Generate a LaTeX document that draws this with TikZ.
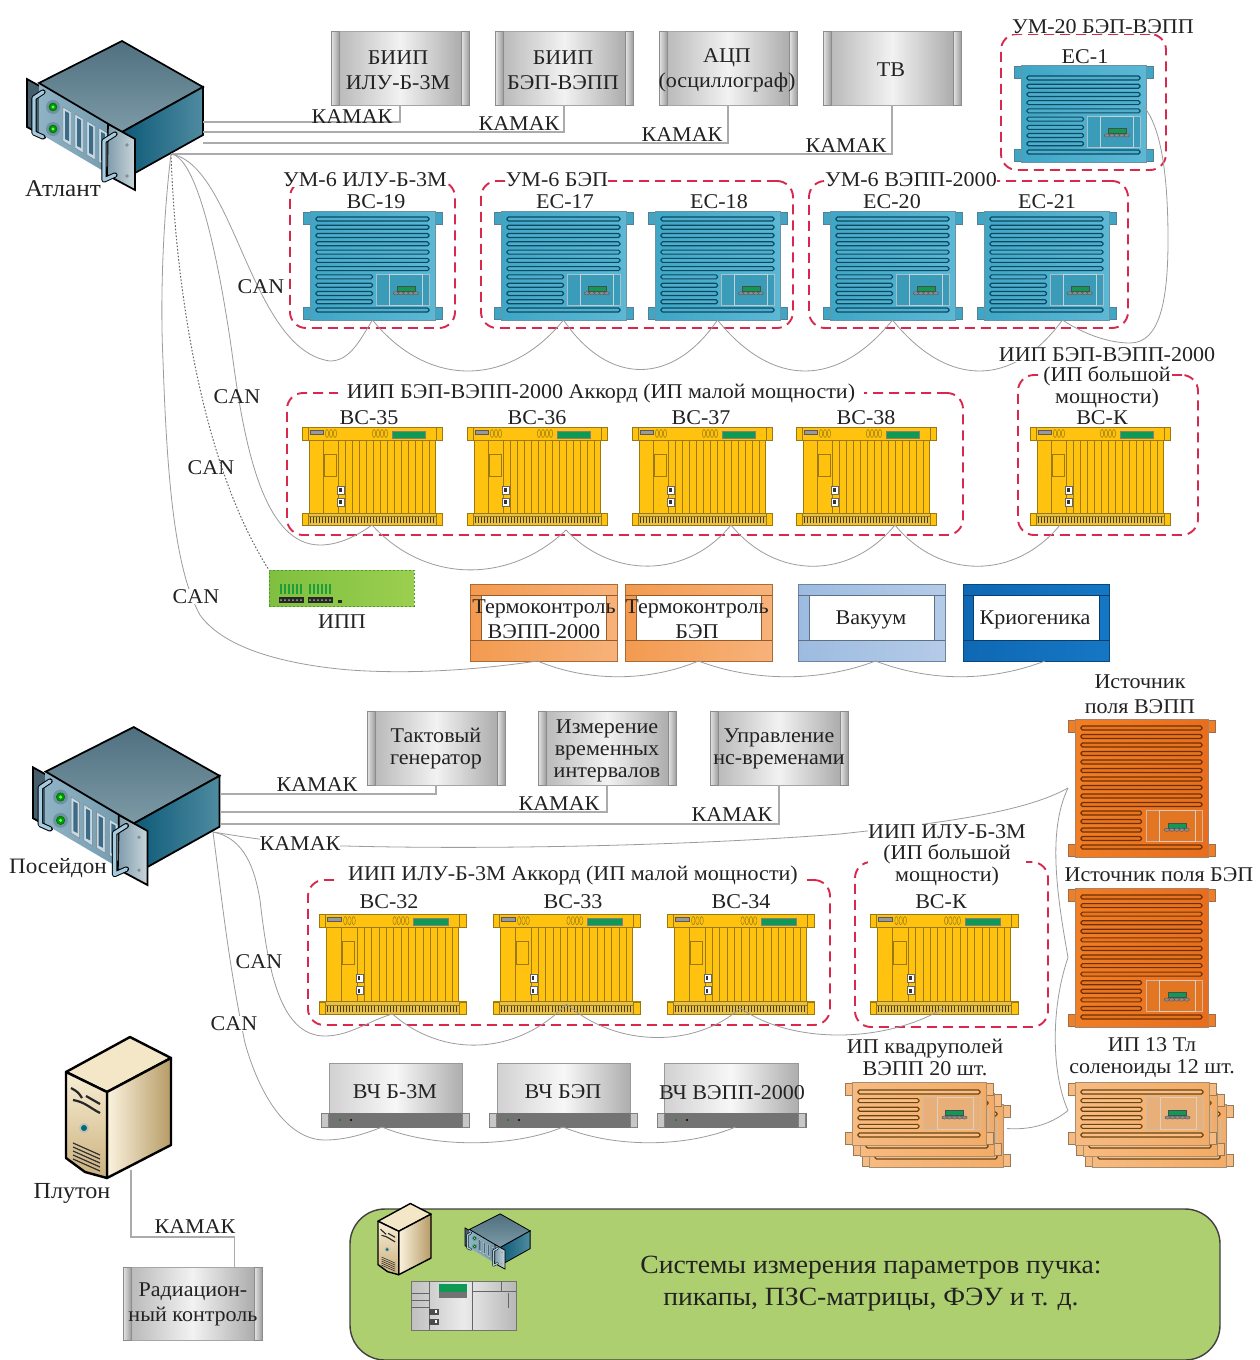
\documentclass[tikz,border=0pt]{standalone}
\usepackage{fontspec}
\setmainfont[FakeStretch=1.05]{Liberation Serif}
\usetikzlibrary{calc}
\definecolor{inkc}{HTML}{222222}
\definecolor{redd}{HTML}{D8284E}
\definecolor{wirec}{HTML}{ABABAB}
\definecolor{canc}{HTML}{9C9C9C}
% palettes for slatted units
\definecolor{blubody}{HTML}{3FA6C6}\definecolor{blulight}{HTML}{5CB8D4}\definecolor{bludark}{HTML}{0B4A63}\definecolor{bluslat}{HTML}{4FAECB}
\definecolor{orabody}{HTML}{F07E24}\definecolor{oralight}{HTML}{E86E1E}\definecolor{oradark}{HTML}{6E3008}\definecolor{oraslat}{HTML}{E8741E}
\definecolor{lorbody}{HTML}{F7BA80}\definecolor{lorlight}{HTML}{F3AC68}\definecolor{lordark}{HTML}{6B4310}\definecolor{lorslat}{HTML}{F7BE85}
\definecolor{yelbody}{HTML}{FFC20E}\definecolor{yelbar}{HTML}{E6C04A}\definecolor{yeldark}{HTML}{9A7A10}
\definecolor{grndisp}{HTML}{0E9A55}
\definecolor{tma}{HTML}{F39A4F}\definecolor{tmb}{HTML}{F7B27A}
\definecolor{vaa}{HTML}{9DBBE0}\definecolor{vab}{HTML}{B4CBE8}
\definecolor{cra}{HTML}{0F68B4}\definecolor{crb}{HTML}{1577C4}
\definecolor{panelc}{RGB}{174,207,112}
% server palette
\definecolor{srvtopa}{HTML}{4F7080}\definecolor{srvtopb}{HTML}{7D9AA6}
\definecolor{srvrighta}{HTML}{0D5A78}\definecolor{srvrightb}{HTML}{4F8BA0}
\definecolor{srvfronta}{HTML}{8FB2C4}\definecolor{srvfrontb}{HTML}{6F98AC}
\definecolor{srvplatea}{HTML}{7F9CAB}\definecolor{srvplateb}{HTML}{C9D6DD}
\definecolor{srvear}{HTML}{45606C}\definecolor{srvhandle}{HTML}{A5CBE0}
\definecolor{srvslot}{HTML}{C5DAE6}\definecolor{srvslit}{HTML}{3E6A85}\definecolor{srvhalo}{HTML}{6E93A4}
% tower palette
\definecolor{twtop}{HTML}{F3E7C8}\definecolor{twra}{HTML}{FBF3DF}\definecolor{twrb}{HTML}{B79B66}
\definecolor{twla}{HTML}{F8EFD6}\definecolor{twlb}{HTML}{CBB07C}
% ipp
\definecolor{ippa}{HTML}{7FBF3F}\definecolor{ippb}{HTML}{9BCF50}\definecolor{ippd}{HTML}{4E9A2A}\definecolor{ipppin}{HTML}{1E9E3A}
\newcounter{lblc}
\newcommand{\fs}[2]{\fontsize{#1}{#2}\selectfont}
\newcommand{\lbl}[4][]{\stepcounter{lblc}\node[lblstyle,#1] (t\the\value{lblc}) at (#2,#3) {#4};}
\newcommand{\devnode}[6][]{\node[devstyle,minimum width=#5pt,minimum height=#6pt,#1] (#2) at (#3,#4) {};}
% gray crate with end strips
\newcommand{\graybox}[5]{%
 \devnode[draw=black!35,line width=.8,left color=black!30,right color=black!36,middle color=black!5]{#1}{#2}{#3}{#4}{#5}
 \foreach \sx in {0,#4-8}{\path[draw=black!45,line width=.6,left color=black!10,right color=black!38] ($(#2,#3)+(\sx,0)$) rectangle ++(8,#5);}
}
% slatted power unit: name,x,y,w,h,nlong,topoffset,palette
\newcommand{\slatunit}[8]{%
 \begin{scope}[shift={(#2,#3)}]
 \foreach \ex/\ey in {0/1,#4-9/1,0/#5-13,#4-9/#5-13}{\path[draw=#8dark!70,line width=.5,fill=#8body] (\ex,\ey) rectangle ++(9,12);}
 \devnode[draw=#8dark!60,line width=.6,left color=#8body,right color=#8light]{#1}{7}{0}{#4-14}{#5}
 \pgfmathsetmacro\pitchv{(#5-#7-10)/(#6+4)}
 \pgfmathtruncatemacro\lastv{#6+4}
 \pgfmathsetmacro\ya{#7+#6*\pitchv}
 \pgfmathsetmacro\yb{\ya+3*\pitchv}
 \path[draw=#8dark!35,line width=.4,fill=#8body!94!black] (0.53*#4,\ya-3) rectangle (#4-13,\yb+3);
 \path[draw=#8dark!25,line width=.3] (0.62*#4,\ya-3) rectangle (#4-20,\yb+3);
 \foreach \i in {0,...,\lastv}{
  \pgfmathsetmacro\yy{#7+\i*\pitchv}
  \pgfmathsetmacro\xr{(\i>=#6 && \i<#6+4) ? 0.5*#4 : #4-13}
  \path[draw=#8dark,line width=1.15,fill=#8slat,rounded corners=1.5] (13,\yy-2) rectangle (\xr,\yy+2);
 }
 \pgfmathsetmacro\ym{\ya+1.5*\pitchv}
 \path[draw=black!70,line width=.4,fill=grndisp] (0.74*#4-9,\ym-3) rectangle (0.74*#4+9,\ym+2);
 \foreach \dd in {-10,-5,0,5,10}{\path[draw=black!70,fill=black!45,line width=.3] (0.74*#4+\dd,\ym+4) ellipse (2.6 and 1.6);}
 \end{scope}
}
% yellow rack: name,x,y,w,h
\newcommand{\yrack}[5]{%
 \devnode[draw=none,fill=none]{#1}{#2}{#3}{#4}{#5}
 \begin{scope}[shift={(#2,#3)},xscale=#4/140,yscale=#5/98]
 \path[draw=yeldark,line width=.6,fill=yelbody] (7,13) rectangle (133,86);
 \path[draw=yeldark,line width=.6,fill=yelbody] (0,0) rectangle (140,13);
 \path[draw=yeldark,line width=.5] (6,0) -- (6,13) (134,0) -- (134,13);
 \path[draw=black!65,fill=black!40,line width=.4] (8,3.5) rectangle (21,7);
 \foreach \cx in {25,29,33,72,76,80,84}{\path[draw=yeldark,line width=.5] (\cx,6.5) ellipse (1.6 and 4);}
 \path[draw=black!50,fill=grndisp,line width=.4] (90,4.5) rectangle (123,11);
 \path[draw=yeldark,line width=.5] (21,13) -- (21,86);
 \foreach \vx in {36,43,50,57,64,71,78,85,92,99,106,113,120,127}{\path[draw=yeldark,line width=.6] (\vx,13) -- (\vx,86);}
 \path[draw=yeldark,line width=.6] (22,27) rectangle (34,49);
 \foreach \iy in {59,71}{\path[draw=black!60,fill=white,line width=.4] (35,\iy) rectangle (42,\iy+8);\path[fill=black!80] (37,\iy+2) rectangle (39.5,\iy+6);}
 \path[draw=yeldark,line width=.6,fill=yelbar] (0,86) rectangle (140,98);
 \path[draw=yeldark,line width=.5,fill=yelbody] (0,86) rectangle (6,98) (134,86) rectangle (140,98);
 \path[draw=yeldark,line width=.5] (6,89.5) -- (134,89.5);
 \foreach \hx in {8,11,...,131}{\path[draw=black!50!yeldark,line width=.5] (\hx,90) -- (\hx,96);}
 \end{scope}
}
% frame device: name,x,y,w,inset,colours
\newcommand{\frameunit}[7]{%
 \devnode[draw=#6!70!black,line width=.7,left color=#6,right color=#7]{#1}{#2}{#3}{#4}{76.5}
 \path[draw=#6!60!black,line width=.6,fill=white] ($(#2,#3)+(#5,11)$) rectangle ($(#2,#3)+(#4-#5,56)$);
 \path[draw=#6!60!black,line width=.5] ($(#2,#3)+(0,11)$) -- ++(#5,0) ($(#2,#3)+(0,56)$) -- ++(#5,0) ($(#2,#3)+(#4-#5,11)$) -- ++(#5,0) ($(#2,#3)+(#4-#5,56)$) -- ++(#5,0);
}
% server art
\newcommand{\serverart}[3]{%
 \begin{scope}[shift={(#1,#2)},scale=#3,shift={(-27,-40)}]
 \pgfmathsetmacro\lw{1.4*#3+.3}
 \path[draw=black,line width=\lw,fill=srvear] (27,79) -- (45,89) -- (45,137) -- (27,127) -- cycle;
 \path[left color=srvfronta,right color=srvfrontb] (39,83) -- (122,132) -- (122,182) -- (39,133) -- cycle;
 \path[draw=black,line width=\lw,top color=srvtopa,bottom color=srvtopb] (122,41) -- (203,87) -- (122,132) -- (39,83) -- cycle;
 \path[draw=black,line width=\lw,left color=srvrighta,right color=srvrightb] (122,132) -- (203,87) -- (203,135) -- (135,173) -- (122,180) -- cycle;
 \path[left color=srvplatea,right color=srvplateb,draw=black,line width=\lw] (108,124) -- (135,139) -- (135,190) -- (107,175) -- cycle;
 \foreach \ly in {107,129}{
  \path[fill=srvhalo] (53,\ly) circle (7);
  \path[fill=green!60!black,draw=green!35!black,line width=.4] (53,\ly) circle (4);
  \path[fill=green!60!white] (53,\ly) circle (1.6);
 }
 \foreach \sx in {67,79,91,103}{
  \pgfmathsetmacro\sy{110+(\sx-67)*.58}
  \path[fill=srvslot,draw=black!50,line width=.4] (\sx-4,\sy-3) -- (\sx+4,\sy+2) -- (\sx+4,\sy+36) -- (\sx-4,\sy+31) -- cycle;
  \path[fill=srvslit] (\sx-2,\sy+1) -- (\sx+2,\sy+3) -- (\sx+2,\sy+31) -- (\sx-2,\sy+29) -- cycle;
 }
 \path[draw=black,line width=4.6*#3+.6,line cap=round,line join=round] (43,92) -- (34,98) -- (34,133) -- (43,137);
 \path[draw=srvhandle,line width=3*#3+.2,line cap=round,line join=round] (43,92) -- (34,98) -- (34,133) -- (43,137);
 \path[draw=black,line width=4.6*#3+.6,line cap=round,line join=round] (115,134) -- (104,141) -- (104,180) -- (115,175);
 \path[draw=srvhandle,line width=3*#3+.2,line cap=round,line join=round] (115,134) -- (104,141) -- (104,180) -- (115,175);
 \path[fill=black!45] (127,145) circle (1.8) (127,176) circle (1.8);
 \end{scope}
}
% tower art
\newcommand{\towerart}[3]{%
 \begin{scope}[shift={(#1,#2)},scale=#3,shift={(-66,-1037)}]
 \pgfmathsetmacro\lw{2*#3+.4}
 \path[draw=black,line width=\lw,line join=round,fill=twtop] (130,1037) -- (171,1058) -- (107,1092) -- (66,1072) -- cycle;
 \path[draw=black,line width=\lw,line join=round,left color=twra,right color=twrb] (107,1092) -- (171,1058) -- (171,1145) -- (107,1178) -- cycle;
 \path[draw=black,line width=\lw,line join=round,top color=twla,bottom color=twlb] (66,1072) -- (107,1092) -- (107,1178) -- (85,1172) -- (66,1158) -- cycle;
 \path[draw=black!85,line width=2.2*#3] (71,1088) .. controls (78,1092) .. (82,1098) (86,1096) -- (100,1104);
 \path[draw=black!85,line width=2.2*#3] (73,1100) .. controls (85,1102) and (90,1108) .. (100,1113);
 \path[fill=black!25] (84,1128) circle (5);
 \path[fill=teal!85!black] (84,1128) circle (3);
 \foreach \gy in {0,4,8,12,16}{\path[draw=black!80,line width=1.2*#3] (73,1143+\gy) -- (100,1155+\gy);}
 \end{scope}
}
\tikzset{
 lblstyle/.style={inner sep=0pt,outer sep=0pt,text=inkc,align=center,font=\fs{21}{25},yshift=-1.5pt},
 devstyle/.style={anchor=north west,inner sep=0pt,outer sep=0pt},
 grpstyle/.style={devstyle,draw=redd,line width=1.9,dash pattern=on 10pt off 6pt,rounded corners=16pt},
 kamakw/.style={draw=wirec,line width=1.2},
 canw/.style={draw=canc,line width=.8},
 bgw/.style={fill=white},
}
\begin{document}
\begin{tikzpicture}[x=1pt,y=-1pt]
\useasboundingbox (0,0) rectangle (1259,1360);
\fill[white] (0,0) rectangle (1259,1360);

% ---- dashed groups
\devnode[grpstyle]{g1}{290}{181}{165}{147}
\devnode[grpstyle]{g2}{481}{181}{312}{147}
\devnode[grpstyle]{g3}{809}{181}{319}{147}
\devnode[grpstyle]{g4}{1001}{34}{165}{136}
\devnode[grpstyle]{g5}{287}{393}{676}{142}
\devnode[grpstyle]{g6}{1018}{375}{180}{160}
\devnode[grpstyle]{g7}{308}{880}{522}{145}
\devnode[grpstyle]{g8}{855}{862}{193}{165}

% ---- server art and anchors
\serverart{27}{40}{1}
\devnode{atlant}{27}{40}{176}{150}
\serverart{33}{726}{1.06}
\devnode{poseidon}{33}{726}{187}{155}
\towerart{66}{1037}{1}
\devnode{pluton}{66}{1037}{105}{141}

% ---- crates
\graybox{biip1}{331}{31}{138}{74}
\graybox{biip2}{495}{31}{138}{74}
\graybox{adc}{659}{31}{138}{74}
\graybox{tv}{823}{31}{138}{74}
\graybox{clock}{367}{711}{138}{74}
\graybox{meas}{538}{711}{138}{74}
\graybox{nsctl}{710}{711}{138}{74}
\graybox{rad}{123}{1267}{139}{73}

% ---- blue units
\slatunit{um1}{1014}{65}{139}{97}{5}{13}{blu}
\slatunit{um19}{303}{211}{139}{109}{7}{8}{blu}
\slatunit{um17}{494}{211}{139}{109}{7}{8}{blu}
\slatunit{um18}{648}{211}{139}{109}{7}{8}{blu}
\slatunit{um20}{823}{211}{139}{109}{7}{8}{blu}
\slatunit{um21}{977}{211}{139}{109}{7}{8}{blu}

% ---- yellow racks
\yrack{bc35}{302}{427}{140}{98}
\yrack{bc36}{467}{427}{140}{98}
\yrack{bc37}{632}{427}{140}{98}
\yrack{bc38}{796}{427}{140}{98}
\yrack{bck}{1030}{427}{140}{98}
\yrack{bc32}{319}{914}{147}{100}
\yrack{bc33}{493}{914}{147}{100}
\yrack{bc34}{667}{914}{147}{100}
\yrack{bcl}{870}{914}{148}{100}

% ---- orange units
\slatunit{sv}{1068}{719}{147}{138}{10}{9}{ora}
\slatunit{sb}{1068}{888}{147}{139}{10}{9}{ora}
\slatunit{qc}{862}{1104}{148}{63}{1}{10}{lor}
\slatunit{qb}{853}{1093}{148}{63}{1}{10}{lor}
\slatunit{qa}{845}{1082}{148}{63}{1}{10}{lor}
\slatunit{sc}{1085}{1104}{148}{63}{1}{10}{lor}
\slatunit{sd}{1076}{1093}{148}{63}{1}{10}{lor}
\slatunit{se}{1068}{1082}{148}{63}{1}{10}{lor}

% ---- frame units
\frameunit{termo1}{470}{584.5}{147}{11}{tma}{tmb}
\frameunit{termo2}{625}{584.5}{147}{11}{tma}{tmb}
\frameunit{vac}{798}{584.5}{147}{11}{vaa}{vab}
\frameunit{cryo}{963}{584.5}{146}{10}{cra}{crb}

% ---- IPP board
\devnode[draw=ippd,line width=.7,dash pattern=on 2pt off 2pt,left color=ippa,right color=ippb]{ipp}{269}{570}{145}{36}
\foreach \bx in {280,309}{
 \foreach \p in {0,4,8,12,16,20}{\path[fill=ipppin] (\bx+\p,584) rectangle ++(2.4,9.5);}
 \path[fill=black!85] (\bx-1,597) rectangle ++(25,6);
 \foreach \p in {1,5,9,13,17,21}{\path[fill=black!35] (\bx+\p,600) circle (1);}
}
\path[fill=black!85] (338,600) rectangle ++(4,3);

% ---- RF units
\devnode[draw=black!40,line width=.6,left color=black!18,right color=black!32,middle color=black!3]{rf1top}{329}{1063}{133}{50}
\devnode[draw=black!55,line width=.6,fill=black!55]{rf1}{321}{1113}{148}{14}
\devnode[draw=black!40,line width=.6,left color=black!18,right color=black!32,middle color=black!3]{rf2top}{497}{1063}{133}{50}
\devnode[draw=black!55,line width=.6,fill=black!55]{rf2}{489}{1113}{148}{14}
\devnode[draw=black!40,line width=.6,left color=black!18,right color=black!32,middle color=black!3]{rf3top}{664}{1063}{134}{50}
\devnode[draw=black!55,line width=.6,fill=black!55]{rf3}{657}{1113}{149}{14}
\foreach \rx in {321,489,657}{
 \path[fill=black!22,draw=black!50,line width=.4] (\rx,1113) rectangle ++(7,14) (\rx+141,1113) rectangle ++(7,14);
 \path[fill=green!55!black] (\rx+19,1120) circle (1.1);
 \path[fill=black] (\rx+30,1120) circle (1.1);
}

% ---- green panel
\devnode[draw=black!75,line width=1.4,fill=panelc,rounded corners=35pt]{beam}{350}{1209}{870}{151}
\towerart{378}{1203.5}{.505}
\serverart{465}{1213.5}{.37}
\devnode[draw=black!55,line width=.7,left color=black!25,right color=black!28,middle color=black!8]{probe}{411}{1281}{105}{49}
\path[draw=black!60,line width=.5] (429,1281) -- (429,1330) (472,1281) -- (472,1330) (472,1291) -- (516,1291) (501,1281) -- (501,1291) (411,1293) -- (429,1293) (411,1300) -- (429,1300) (411,1307) -- (429,1307) (508,1293) -- (508,1308);
\path[fill=grndisp] (439,1284) rectangle (467,1292);
\path[fill=black!55] (439,1292) rectangle (467,1298);
\foreach \sy in {1309,1319}{\path[draw=black!70,fill=black!70,line width=.3] (429,\sy) rectangle ++(9,5);\path[fill=white] (435,\sy+1) rectangle ++(2,3);}

% ---- wire ports
\coordinate (a1) at (203,122);
\coordinate (a2) at (203,132);
\coordinate (a3) at (203,143);
\coordinate (a4) at (171,154);
\coordinate (p1) at (220,794);
\coordinate (p2) at (220,812);
\coordinate (p3) at (220,824);
\coordinate (pc) at (213,832);
\coordinate (plc) at (131,1170);
\coordinate (kbend) at ($(rad.north)+(42,-30)$);

% ---- KAMAK wires
\draw[kamakw] (a1) -| (biip1.south);
\draw[kamakw] (a2) -| (biip2.south);
\draw[kamakw] (a3) -| (adc.south);
\draw[kamakw] (a4) -| (tv.south);
\draw[kamakw] (p1) -| (clock.south);
\draw[kamakw] (p2) -| (meas.south);
\draw[kamakw] (p3) -| (nsctl.south);
\draw[kamakw] (plc) |- (kbend) -- ($(rad.north)+(42,0)$);

% ---- CAN from Atlant
\draw[canw] (a4) .. controls (235,165) and (250,350) .. (330,361) .. controls (350,361) and (360,340) .. (um19.south);
\draw[canw] (um19.south) .. controls +(55,68) and +(-55,68) .. (um17.south);
\draw[canw] (um17.south) .. controls +(45,66) and +(-45,66) .. (um18.south);
\draw[canw] (um18.south) .. controls +(55,68) and +(-55,68) .. (um20.south);
\draw[canw] (um20.south) .. controls +(55,68) and +(-50,68) .. ($(um21.south)+(16,0)$);
\draw[canw] ($(um21.south)+(16,0)$) .. controls (1085,335) and (1110,343) .. (1130,343) .. controls (1160,343) and (1168,300) .. (1168,240) .. controls (1168,170) and (1160,125) .. ($(um1.east)+(-3,-8)$);
\draw[canw] (a4) .. controls (200,158) and (222,280) .. (233,360) .. controls (245,450) and (265,545) .. (320,545) .. controls (340,545) and (358,535) .. (bc35.south);
\draw[canw] (bc35.south) .. controls +(55,60) and +(-55,53) .. ($(bc36.south)+(29,5)$);
\draw[canw] ($(bc36.south)+(29,5)$) .. controls +(45,48) and +(-45,55) .. ($(bc37.south)+(29,0)$);
\draw[canw] ($(bc37.south)+(29,0)$) .. controls +(45,55) and +(-45,55) .. ($(bc38.south)+(29,0)$);
\draw[canw] ($(bc38.south)+(29,0)$) .. controls +(45,55) and +(-45,55) .. ($(bck.south)+(-40,0)$);
\draw[canw,draw=black!60,line width=1,dash pattern=on 1.6pt off 1.8pt] (a4) .. controls (176,300) and (205,470) .. (ipp.north west);
\draw[canw] (a4) .. controls (163,220) and (160,300) .. (163,360) .. controls (167,480) and (175,570) .. (200,615) .. controls (225,650) and (290,665) .. (350,670) .. controls (420,675) and (490,668) .. ($(termo1.south)+(-6,0)$);
\draw[canw] ($(termo1.south)+(-6,0)$) .. controls +(50,21) and +(-50,21) .. (termo2.south);
\draw[canw] (termo2.south) .. controls +(55,21) and +(-55,21) .. ($(vac.south)+(4,0)$);
\draw[canw] ($(vac.south)+(4,0)$) .. controls +(55,21) and +(-55,21) .. ($(cryo.south)+(9,0)$);

% ---- wires from Poseidon
\draw[canw] (pc) .. controls (250,838) and (300,846) .. (345,846) .. controls (500,850) and (700,845) .. (840,834) .. controls (920,825) and (1020,815) .. ($(sv.west)+(-7,0)$);
\draw[canw] ($(sv.west)+(-7,0)$) .. controls (1048,830) and (1056,890) .. ($(sb.west)+(-7,0)$);
\draw[canw] ($(sb.west)+(-7,0)$) .. controls (1050,1010) and (1052,1075) .. ($(se.west)+(-7,-3)$);
\draw[canw] ($(se.west)+(-7,-3)$) .. controls (1050,1125) and (1030,1130) .. ($(qa.east)+(21,15)$);
\draw[canw] (pc) .. controls (245,838) and (255,870) .. (260,900) .. controls (268,970) and (280,1036) .. (325,1036) .. controls (350,1036) and (370,1020) .. (bc32.south);
\draw[canw] (bc32.south) .. controls +(50,44) and +(-50,52) .. ($(bc33.south)+(0,-10)$);
\draw[canw] ($(bc33.south)+(0,-10)$) .. controls +(50,44) and +(-45,40) .. ($(bc34.south)+(0,-6)$);
\draw[canw] ($(bc34.south)+(0,-6)$) .. controls +(50,36) and +(-60,36) .. ($(bcl.south)+(0,-6)$);
\draw[canw] (pc) .. controls (222,900) and (228,960) .. (245,1043) .. controls (258,1090) and (285,1140) .. (325,1140) .. controls (345,1140) and (365,1134) .. ($(rf1.south)+(-13,0)$);
\draw[canw] ($(rf1.south)+(-13,0)$) .. controls +(50,21) and +(-50,21) .. (rf2.south);
\draw[canw] (rf2.south) .. controls +(50,21) and +(-50,21) .. ($(rf3.south)+(4,0)$);

% ---- texts
\lbl[font=\fs{24}{25}]{63}{187}{Атлант}
\lbl{398}{68.5}{БИИП\\ИЛУ-Б-3М}
\lbl{563}{68.5}{БИИП\\БЭП-ВЭПП}
\lbl{727}{68.5}{АЦП\\(осциллограф)}
\lbl{891}{68}{ТВ}
\lbl{352}{115}{КАМАК}
\lbl{519}{122}{КАМАК}
\lbl{682}{133}{КАМАК}
\lbl{846}{144}{КАМАК}
\lbl[bgw]{1103}{25}{УМ-20 БЭП-ВЭПП}
\lbl{1085}{55}{ЕС-1}
\lbl[bgw]{365}{178}{УМ-6 ИЛУ-Б-3М}
\lbl{376}{200}{ВС-19}
\lbl[bgw]{557}{178}{УМ-6 БЭП}
\lbl{565}{200}{ЕС-17}
\lbl{719}{200}{ЕС-18}
\lbl[bgw]{911}{178}{УМ-6 ВЭПП-2000}
\lbl{892}{200}{ЕС-20}
\lbl{1047}{200}{ЕС-21}
\lbl{261}{285}{CAN}
\lbl{237}{395}{CAN}
\lbl{211}{466}{CAN}
\lbl[bgw]{196}{595}{CAN}
\lbl[bgw,inner xsep=9pt]{601}{392}{ИИП БЭП-ВЭПП-2000 Аккорд (ИП малой мощности)}
\lbl{369}{416}{ВС-35}
\lbl{537}{416}{ВС-36}
\lbl{701}{416}{ВС-37}
\lbl{866}{416}{ВС-38}
\lbl[bgw]{1107}{353}{ИИП БЭП-ВЭПП-2000}
\lbl[bgw,font=\fs{21}{21.5}]{1107}{385.5}{(ИП большой\\мощности)}
\lbl{1102}{416}{ВС-К}
\lbl{342}{620}{ИПП}
\lbl{544}{617.5}{Термоконтроль\\ВЭПП-2000}
\lbl{697}{617.5}{Термоконтроль\\БЭП}
\lbl{871}{618}{Вакуум}
\lbl{1035}{618}{Криогеника}
\lbl{1140}{692.5}{Источник\\поля ВЭПП}
\lbl[font=\fs{21}{22}]{436}{747}{Тактовый\\генератор}
\lbl[font=\fs{21}{22}]{607}{749}{Измерение\\временных\\интервалов}
\lbl[font=\fs{21}{22}]{779}{747}{Управление\\нс-временами}
\lbl{317}{783}{КАМАК}
\lbl{559}{802}{КАМАК}
\lbl{732}{813}{КАМАК}
\lbl[bgw]{300}{842}{КАМАК}
\lbl[font=\fs{22}{25}]{58}{867}{Посейдон}
\lbl[bgw,font=\fs{21}{21.5}]{947}{853.5}{ИИП ИЛУ-Б-3М\\(ИП большой\\мощности)}
\lbl[bgw,inner xsep=9pt]{573}{874}{ИИП ИЛУ-Б-3М Аккорд (ИП малой мощности)}
\lbl{389}{900}{ВС-32}
\lbl{573}{900}{ВС-33}
\lbl{741}{900}{ВС-34}
\lbl{941}{900}{ВС-К}
\lbl{1159}{873}{Источник поля БЭП}
\lbl{259}{960}{CAN}
\lbl[bgw]{234}{1022}{CAN}
\lbl[font=\fs{21}{22}]{925}{1056}{ИП квадруполей\\ВЭПП 20 шт.}
\lbl[font=\fs{21}{22}]{1152}{1056}{ИП 13 Тл\\соленоиды 12 шт.}
\lbl{395}{1090}{ВЧ Б-3М}
\lbl{563}{1090}{ВЧ БЭП}
\lbl{732}{1091}{ВЧ ВЭПП-2000}
\lbl[font=\fs{23}{25}]{72}{1192}{Плутон}
\lbl{195}{1225}{КАМАК}
\lbl{193}{1303}{Радиацион-\\ный контроль}
\lbl[font=\fs{26.3}{32}]{871}{1282}{Системы измерения параметров пучка:\\пикапы, ПЗС-матрицы, ФЭУ и т. д.}
\end{tikzpicture}
\end{document}
